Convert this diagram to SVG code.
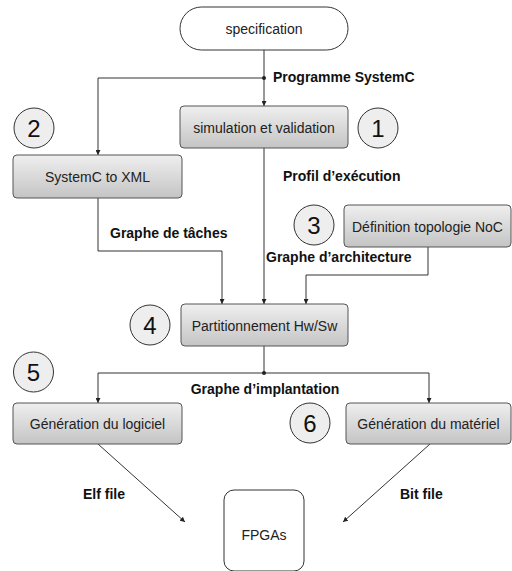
<svg xmlns="http://www.w3.org/2000/svg" width="512" height="571" viewBox="0 0 512 571">
<defs>
<linearGradient id="g" x1="0" y1="0" x2="0" y2="1">
<stop offset="0" stop-color="#efefef"/>
<stop offset="1" stop-color="#c4c4c4"/>
</linearGradient>
<marker id="ar" viewBox="0 0 10 10" refX="10" refY="5" markerWidth="5" markerHeight="5" orient="auto" markerUnits="userSpaceOnUse">
<path d="M0,0 L10,5 L0,10 z" fill="#222"/>
</marker>
<style>
.box{fill:url(#g);stroke:#555;stroke-width:1}
.wbox{fill:#fff;stroke:#333;stroke-width:1}
.circ{fill:#eeeeee;stroke:#333;stroke-width:1}
.t{font-family:"Liberation Sans",Arial,sans-serif;font-size:14px;fill:#222;text-anchor:middle}
.d{font-family:"Liberation Sans",Arial,sans-serif;font-size:24px;fill:#111;text-anchor:middle}
.lb{font-family:"Liberation Sans",Arial,sans-serif;font-size:14px;font-weight:bold;fill:#111}
.c{fill:none;stroke:#333;stroke-width:1}
</style>
</defs>
<rect width="512" height="571" fill="#fff"/>
<g id="connectors">
<path class="c" d="M264,50 V106" marker-end="url(#ar)"/>
<path class="c" d="M264,78 H98 V155" marker-end="url(#ar)"/>
<circle cx="264" cy="78" r="2" fill="#222"/>
<path class="c" d="M264,148 V304" marker-end="url(#ar)"/>
<path class="c" d="M98,198 V251 H222 V304" marker-end="url(#ar)"/>
<path class="c" d="M428,247 V275 H306 V304" marker-end="url(#ar)"/>
<path class="c" d="M264,346 V373 M98,373 H429"/>
<circle cx="264" cy="373" r="2" fill="#222"/>
<path class="c" d="M98,373 V403" marker-end="url(#ar)"/>
<path class="c" d="M429,373 V403" marker-end="url(#ar)"/>
<path class="c" d="M98,444 L185,522" marker-end="url(#ar)"/>
<path class="c" d="M430,444 L343,522" marker-end="url(#ar)"/>
</g>
<g id="labels">
<text class="lb" x="273" y="82">Programme SystemC</text>
<text class="lb" x="283" y="181">Profil d’exécution</text>
<text class="lb" x="110" y="238">Graphe de tâches</text>
<text class="lb" x="266" y="262">Graphe d’architecture</text>
<text class="lb" x="265" y="394" text-anchor="middle">Graphe d’implantation</text>
<text class="lb" x="83" y="499">Elf file</text>
<text class="lb" x="400" y="499">Bit file</text>
</g>
<g id="specification">
<rect class="wbox" x="180" y="7" width="168" height="43" rx="21.5"/>
<text class="t" x="264" y="34">specification</text>
</g>
<g id="simulation">
<rect class="box" x="180" y="106" width="168" height="42" rx="4"/>
<text class="t" x="264" y="133">simulation et validation</text>
</g>
<g id="systemc-xml">
<rect class="box" x="13" y="155" width="169" height="43" rx="4"/>
<text class="t" x="97.5" y="182">SystemC to XML</text>
</g>
<g id="topologie">
<rect class="box" x="344" y="205" width="167" height="42" rx="4"/>
<text class="t" x="427.5" y="232">Définition topologie NoC</text>
</g>
<g id="partitionnement">
<rect class="box" x="181" y="304" width="167" height="42" rx="4"/>
<text class="t" x="264.5" y="331">Partitionnement Hw/Sw</text>
</g>
<g id="logiciel">
<rect class="box" x="13" y="403" width="169" height="41" rx="4"/>
<text class="t" x="97.5" y="429">Génération du logiciel</text>
</g>
<g id="materiel">
<rect class="box" x="346" y="403" width="165" height="41" rx="4"/>
<text class="t" x="428.5" y="429">Génération du matériel</text>
</g>
<g id="fpgas">
<rect class="wbox" x="224" y="490" width="80" height="81" rx="10"/>
<text class="t" x="264" y="540">FPGAs</text>
</g>
<g id="n1"><circle class="circ" cx="378" cy="128" r="20"/><text class="d" x="378" y="136.5">1</text></g>
<g id="n2"><circle class="circ" cx="34" cy="128" r="20"/><text class="d" x="34" y="136.5">2</text></g>
<g id="n3"><circle class="circ" cx="314" cy="225" r="20"/><text class="d" x="314" y="233.5">3</text></g>
<g id="n4"><circle class="circ" cx="150" cy="325" r="20"/><text class="d" x="150" y="333.5">4</text></g>
<g id="n5"><circle class="circ" cx="33.5" cy="372" r="20"/><text class="d" x="33.5" y="380.5">5</text></g>
<g id="n6"><circle class="circ" cx="310" cy="423" r="20"/><text class="d" x="310" y="431.5">6</text></g>
</svg>
